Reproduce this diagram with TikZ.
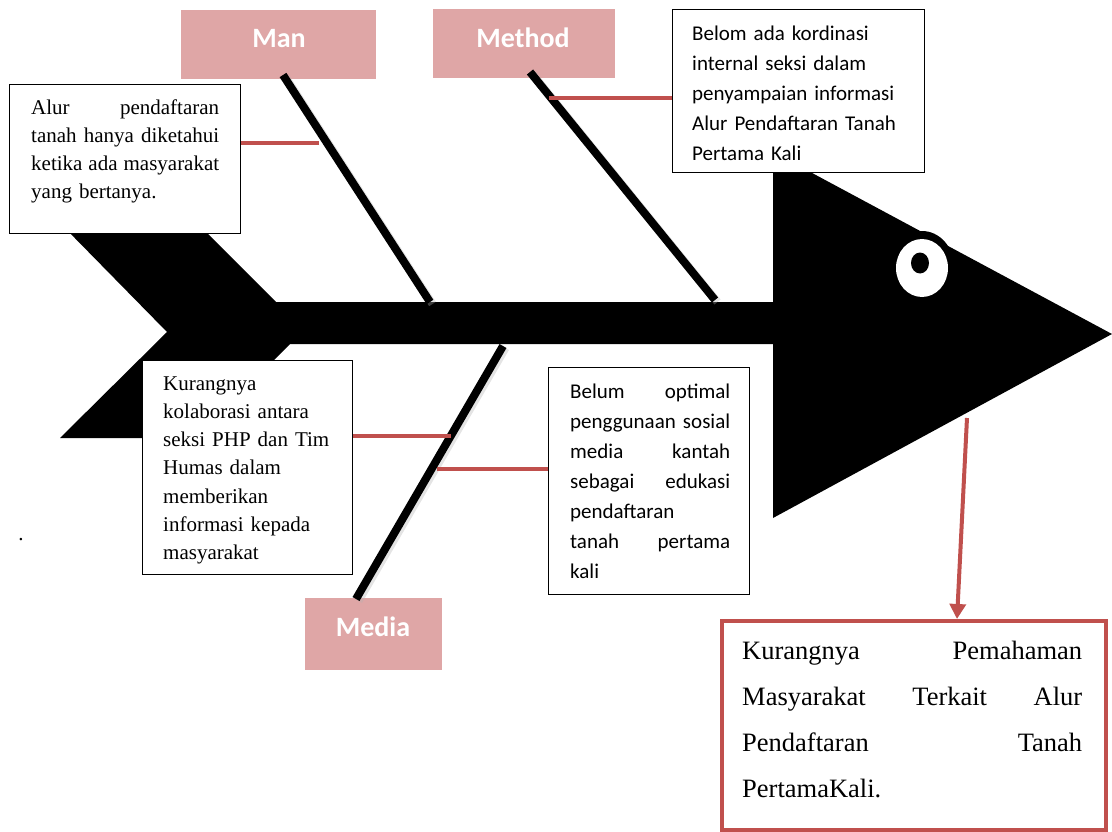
\documentclass[tikz,border=0pt]{standalone}
\usepackage{fontspec}
\setmainfont{Liberation Serif}
\newfontfamily\calib{Carlito}
\usetikzlibrary{arrows.meta}
\definecolor{pinkbox}{RGB}{223,166,166}
\definecolor{redline}{RGB}{192,80,77}
\hbadness=10000
\begin{document}
\begin{tikzpicture}[x=1pt,y=-1pt,
  bone/.style={line width=8pt},
  boneshadow/.style={line width=8pt,draw=black!30,opacity=0.35,transform canvas={shift={(2.5pt,-2pt)}}},
  conn/.style={draw=redline,line width=4pt},
  txtbox/.style={draw=black,line width=1.2pt,fill=white,inner sep=0pt,anchor=north west},
  catbox/.style={fill=pinkbox,inner sep=0pt,anchor=north west},
  cattext/.style={font=\calib\bfseries\fontsize{28}{30}\selectfont,text=white,anchor=base,inner sep=0pt},
  seriftext/.style={font=\fontsize{21}{27.8}\selectfont,inner sep=0pt,anchor=base west,align=left},
  sanstext/.style={font=\calib\fontsize{21}{29.8}\selectfont,inner sep=0pt,anchor=base west,align=left},
]
\useasboundingbox (0,0) rectangle (1112,832);

% fish body and tail
\fill[black] (62,225) -- (199,225) -- (276,302) -- (773,302) -- (773,152)
  -- (1112,334) -- (773,518) -- (773,344) -- (290,344) -- (196,438)
  -- (60,438) -- (167,332) -- cycle;

% eye
\fill[black] (922,267) ellipse [x radius=32pt, y radius=36pt];
\fill[white] (922,268) ellipse [x radius=26pt, y radius=29pt];
\fill[black] (920,263) ellipse [x radius=9pt, y radius=10.5pt];

% category labels
\node[catbox, minimum width=195pt, minimum height=69pt] (manbox) at (181,10) {};
\node[cattext] (mantxt) at (279,48) {Man};
\node[catbox, minimum width=182pt, minimum height=69pt] (methbox) at (433,9) {};
\node[cattext] (methtxt) at (523,48) {Method};
\node[catbox, minimum width=137pt, minimum height=72pt] (medbox) at (305,598) {};
\node[cattext] (medtxt) at (373,636) {Media};

% bones
\coordinate (manTop) at (283,75);
\coordinate (manBot) at (430,302);
\coordinate (methTop) at (530,72);
\coordinate (methBot) at (715,300);
\coordinate (medTop) at (503,346);
\coordinate (medBot) at (356,599);
\draw[boneshadow] (manTop) -- (manBot);
\draw[boneshadow] (methTop) -- (methBot);
\draw[boneshadow] (medTop) -- (medBot);
\draw[bone] (manTop) -- (manBot);
\draw[bone] (methTop) -- (methBot);
\draw[bone] (medTop) -- (medBot);

% cause boxes
\node[txtbox, minimum width=231pt, minimum height=149pt] (alurbox) at (9,84) {};
\node[seriftext, text width=188pt] (alurtxt) at (31,115)
  {Alur\hfill pendaftaran\\ tanah\hfill hanya\hfill diketahui\\ ketika\hfill ada\hfill masyarakat\\ yang bertanya.};

\node[txtbox, minimum width=252pt, minimum height=163pt] (methodbox) at (672,9) {};
\node[sanstext, text width=228pt] (methodtxt) at (692,41)
  {Belom ada kordinasi\\ internal seksi dalam\\ penyampaian informasi\\ Alur Pendaftaran Tanah\\ Pertama Kali};

\node[txtbox, minimum width=210pt, minimum height=214pt] (kurangbox) at (142,360) {};
\node[seriftext, text width=185pt, font=\fontsize{21}{28.3}\selectfont] (kurangtxt) at (163,390)
  {Kurangnya\\ kolaborasi antara\\ seksi PHP dan Tim\\ Humas dalam\\ memberikan\\ informasi kepada\\ masyarakat};

\node[txtbox, minimum width=201pt, minimum height=227pt] (belumbox) at (548,367) {};
\node[sanstext, text width=160pt, font=\calib\fontsize{21}{30}\selectfont] (belumtxt) at (570,398)
  {Belum\hfill optimal\\ penggunaan\hfill sosial\\ media\hfill kantah\\ sebagai\hfill edukasi\\ pendaftaran\\ tanah\hfill pertama\\ kali};

% result box
\node[draw=redline, line width=4pt, fill=white, inner sep=0pt, anchor=north west,
  minimum width=384pt, minimum height=209pt] (resultbox) at (720,619) {};
\node[seriftext, text width=340pt, font=\fontsize{26.5}{46}\selectfont] (resulttxt) at (742,659)
  {Kurangnya\hfill Pemahaman\\ Masyarakat\hfill Terkait\hfill Alur\\ Pendaftaran\hfill Tanah\\ PertamaKali.};

% stray dot
\node[font=\fontsize{21}{25}\selectfont, anchor=base, inner sep=0pt] (dot) at (21,540) {.};

% red connectors
\coordinate (manC) at (319,143);
\coordinate (methC) at (549,98);
\coordinate (medC1) at (451,436);
\coordinate (medC2) at (437,469);
\coordinate (headC) at (967,418);
\draw[conn] (manC) -- (manC -| alurbox.east);
\draw[conn] (methC) -- (methC -| methodbox.west);
\draw[conn] (medC1) -- (medC1 -| kurangbox.east);
\draw[conn] (medC2) -- (medC2 -| belumbox.west);
\draw[conn, -{Triangle[length=15pt,width=16pt]}] (headC) -- ([xshift=-10pt]headC |- resultbox.north);
\end{tikzpicture}
\end{document}
